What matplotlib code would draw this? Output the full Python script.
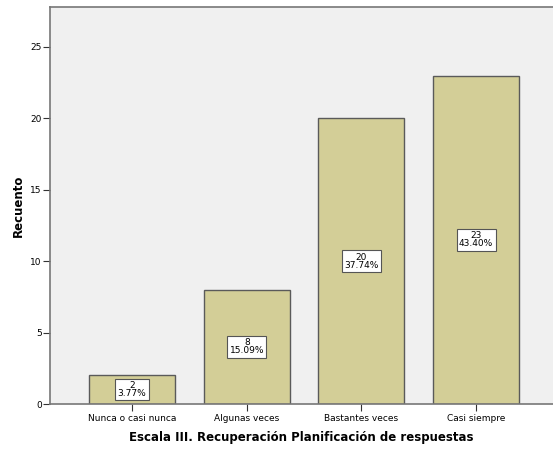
import matplotlib.pyplot as plt
import numpy as np

categorias = ['Nunca o casi nunca', 'Algunas veces', 'Bastantes veces', 'Casi siempre']
recuento = [2, 8, 20, 23]
porcentajes = ['3.77%', '15.09%', '37.74%', '43.40%']

fig = plt.figure(figsize=(5.53, 4.5), dpi=100)
ax = fig.add_axes([50/553, 1 - 404/450, 1 - 50/553, (404 - 7)/450])
ax.set_facecolor('#f0f0f0')

x = np.arange(len(categorias))
ax.bar(x, recuento, width=0.75, color='#d3ce97', edgecolor='#5a5a5a', linewidth=1)

# etiquetas con recuento y porcentaje en el centro de cada barra
for xi, n, p in zip(x, recuento, porcentajes):
    ax.text(xi, n / 2, '%d\n%s' % (n, p), ha='center', va='center', fontsize=6.5,
            linespacing=0.85,
            bbox=dict(boxstyle='square,pad=0.25', facecolor='white', edgecolor='#555555', linewidth=0.8))

ax.set_xlim(-0.716, 3.67)
ax.set_ylim(0, 27.8)
ax.set_yticks([0, 5, 10, 15, 20, 25])
ax.set_xticks(x)
ax.set_xticklabels(categorias, fontsize=6.5)
ax.tick_params(axis='y', labelsize=6.5, length=5, color='#333333', pad=1)
ax.tick_params(axis='x', length=5, color='#333333', pad=2)

for s in ['left', 'bottom', 'top']:
    ax.spines[s].set_color('#777777')
    ax.spines[s].set_linewidth(1.2)
ax.spines['right'].set_visible(False)

ax.set_ylabel('Recuento', fontsize=8.5, fontweight='bold', labelpad=4)
ax.set_xlabel('Escala III. Recuperación Planificación de respuestas', fontsize=8.5,
              fontweight='bold', labelpad=6)

fig.savefig('out.png', dpi=100)
